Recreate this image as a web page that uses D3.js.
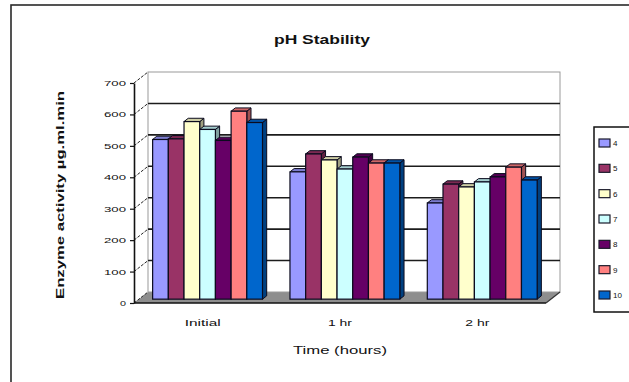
<!DOCTYPE html>
<html><head><meta charset="utf-8">
<script src="https://cdn.jsdelivr.net/npm/d3@7"></script>
<style>
html,body{margin:0;padding:0;background:#fff;}
svg{display:block;}
text{font-family:"Liberation Sans",Arial,sans-serif;fill:#111;}
</style></head><body>
<svg id="chart" width="629" height="382"></svg>
<script>
// Time points and pH levels
const categories = ["Initial", "1 hr", "2 hr"];
const phLevels = ["4", "5", "6", "7", "8", "9", "10"];

// Enzyme activity per pH level at each time point
const ph4  = [508, 405, 306];
const ph5  = [510, 462, 366];
const ph6  = [565, 443, 357];
const ph7  = [540, 414, 373];
const ph8  = [505, 452, 389];
const ph9  = [598, 433, 420];
const ph10 = [562, 433, 379];

const phColors = ["#9999FF", "#993366", "#FFFFCC", "#CCFFFF", "#660066", "#FF8080", "#0066CC"];
const yTicks = [0, 100, 200, 300, 400, 500, 600, 700];

const seriesValues = [ph4, ph5, ph6, ph7, ph8, ph9, ph10];

const svg = d3.select("#chart");

// pseudo 3-D box: offset of the back plane relative to the front plane
const depth = { dx: 14, dy: -11 };
const at = (px, py, t) => [px + depth.dx * t, py + depth.dy * t];

const x = d3.scaleBand().domain(categories).range([134, 546]).paddingInner(0.2).paddingOuter(0.1);
const xs = d3.scaleBand().domain(phLevels).range([0, x.bandwidth()]);
const y = d3.scaleLinear().domain([0, 700]).range([303, 83]);
const color = d3.scaleOrdinal().domain(phLevels).range(phColors);

// outer chart frame
svg.append("rect").attr("x", 11).attr("y", 5).attr("width", 660).attr("height", 420)
  .attr("fill", "#fff").attr("stroke", "#2a2a2a").attr("stroke-width", 1.6);

// title
svg.append("text").attr("x", 322).attr("y", 44).attr("text-anchor", "middle")
  .attr("font-size", 13).attr("font-weight", "bold")
  .attr("textLength", 96).attr("lengthAdjust", "spacingAndGlyphs")
  .text("pH Stability");

const [xL, xR] = x.range();
const y0 = y(0), yTop = y(700);

// floor
svg.append("polygon")
  .attr("points", [at(xL, y0, 0), at(xR, y0, 0), at(xR, y0, 1), at(xL, y0, 1)].map(p => p.join(",")).join(" "))
  .attr("fill", "#8e8e8e");

// back wall
const [bx0, by0] = at(xL, yTop, 1);
const [bx1, by1] = at(xR, y0, 1);
svg.append("rect").attr("x", bx0).attr("y", by0).attr("width", bx1 - bx0).attr("height", by1 - by0)
  .attr("fill", "#fff").attr("stroke", "#9a9a9a").attr("stroke-width", 1);

// gridlines on the back wall
svg.append("g").selectAll("line").data(yTicks.filter(d => d > 0 && d < 700)).join("line")
  .attr("x1", bx0).attr("x2", bx1)
  .attr("y1", d => at(xL, y(d), 1)[1]).attr("y2", d => at(xL, y(d), 1)[1])
  .attr("stroke", "#1c1c1c").attr("stroke-width", 1.6);

// gridlines on the side wall
svg.append("g").selectAll("line").data(yTicks).join("line")
  .attr("x1", xL).attr("y1", d => y(d))
  .attr("x2", d => at(xL, y(d), 1)[0]).attr("y2", d => at(xL, y(d), 1)[1])
  .attr("stroke", "#222").attr("stroke-width", 1).attr("stroke-dasharray", "3,1.5");

// columns: front face at 35 % of the depth, back face at 65 %
const tF = 0.35, tB = 0.65;
const bdx = depth.dx * (tB - tF), bdy = depth.dy * (tB - tF);
const bars = [];
categories.forEach((c, ci) => {
  phLevels.forEach((p, si) => {
    bars.push({ cat: c, ph: p, value: seriesValues[si][ci] });
  });
});
const barG = svg.append("g").selectAll("g").data(bars).join("g");
barG.each(function (d) {
  const g = d3.select(this);
  const w = xs.bandwidth();
  const [fx, fyTop] = at(x(d.cat) + xs(d.ph), y(d.value), tF);
  const fyBot = at(0, y(0), tF)[1];
  const base = d3.color(color(d.ph));
  const pts = a => a.map(p => p.join(",")).join(" ");
  g.append("polygon")
    .attr("points", pts([[fx + w, fyTop], [fx + w + bdx, fyTop + bdy], [fx + w + bdx, fyBot + bdy], [fx + w, fyBot]]))
    .attr("fill", base.darker(1.3)).attr("stroke", "#0b0b1e").attr("stroke-width", 1);
  g.append("polygon")
    .attr("points", pts([[fx, fyTop], [fx + w, fyTop], [fx + w + bdx, fyTop + bdy], [fx + bdx, fyTop + bdy]]))
    .attr("fill", base.darker(0.6)).attr("stroke", "#0b0b1e").attr("stroke-width", 1);
  g.append("rect").attr("x", fx).attr("y", fyTop).attr("width", w).attr("height", fyBot - fyTop)
    .attr("fill", base).attr("stroke", "#0b0b1e").attr("stroke-width", 1.2);
});

// floor front and right edges
svg.append("line").attr("x1", xL).attr("x2", xR).attr("y1", y0).attr("y2", y0)
  .attr("stroke", "#111").attr("stroke-width", 1.6);
svg.append("line").attr("x1", xR).attr("y1", y0)
  .attr("x2", at(xR, y0, 1)[0]).attr("y2", at(xR, y0, 1)[1])
  .attr("stroke", "#333").attr("stroke-width", 1.2);

// value axis
const yAxis = svg.append("g").attr("transform", `translate(${xL},0)`)
  .call(d3.axisLeft(y).tickValues(yTicks).tickSize(4).tickSizeOuter(0).tickPadding(4));
yAxis.select(".domain").attr("stroke", "#111").attr("stroke-width", 1.6);
yAxis.selectAll(".tick line").attr("stroke", "#111").attr("stroke-width", 1.2);
yAxis.selectAll(".tick text").attr("font-size", 8).attr("font-family", null).attr("fill", "#222")
  .attr("textLength", d => d === 0 ? 6 : 22).attr("lengthAdjust", "spacingAndGlyphs");

// category axis
const xAxis = svg.append("g").attr("transform", `translate(0,${y0})`)
  .call(d3.axisBottom(x).tickSize(0).tickPadding(17));
xAxis.select(".domain").remove();
xAxis.selectAll(".tick text").attr("font-size", 9).attr("font-family", null).attr("fill", "#222")
  .attr("textLength", d => d === "Initial" ? 36 : 24).attr("lengthAdjust", "spacingAndGlyphs");

// axis titles
svg.append("text").attr("transform", "translate(64,195) rotate(-90)").attr("text-anchor", "middle")
  .attr("font-size", 10).attr("font-weight", "bold")
  .attr("textLength", 208).attr("lengthAdjust", "spacingAndGlyphs")
  .text("Enzyme activity µg.ml.min");
svg.append("text").attr("x", x("1 hr") + x.bandwidth() / 2).attr("y", 354).attr("text-anchor", "middle")
  .attr("font-size", 10).attr("fill", "#222")
  .attr("textLength", 94).attr("lengthAdjust", "spacingAndGlyphs")
  .text("Time (hours)");

// legend
const ly = d3.scalePoint().domain(phLevels).range([143, 295]);
const legend = svg.append("g");
legend.append("rect").attr("x", 594).attr("y", 127).attr("width", 60).attr("height", 185)
  .attr("fill", "#fff").attr("stroke", "#111").attr("stroke-width", 1.5);
const li = legend.selectAll("g.item").data(phLevels).join("g").attr("class", "item")
  .attr("transform", d => `translate(599,${ly(d)})`);
li.append("rect").attr("x", 0).attr("y", -4).attr("width", 11).attr("height", 8)
  .attr("fill", d => color(d)).attr("stroke", "#1a1a2a").attr("stroke-width", 1.2);
li.append("text").attr("x", 14).attr("y", 3).attr("font-size", 8).attr("fill", "#222").text(d => d);
</script>
</body></html>
